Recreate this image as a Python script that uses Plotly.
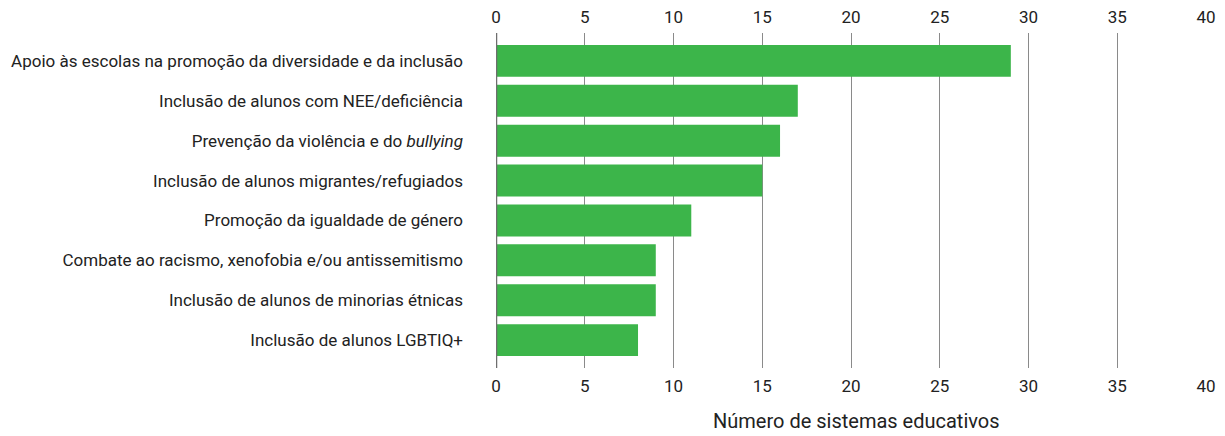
import plotly.graph_objects as go

categories = [
    "Apoio às escolas na promoção da diversidade e da inclusão",
    "Inclusão de alunos com NEE/deficiência",
    "Prevenção da violência e do <i>bullying</i>",
    "Inclusão de alunos migrantes/refugiados",
    "Promoção da igualdade de género",
    "Combate ao racismo, xenofobia e/ou antissemitismo",
    "Inclusão de alunos de minorias étnicas",
    "Inclusão de alunos LGBTIQ+",
]
values = [29, 17, 16, 15, 11, 9, 9, 8]
tick_vals = [0, 5, 10, 15, 20, 25, 30, 35, 40]
axis_title = "Número de sistemas educativos"

FONT = "Roboto, Arial, sans-serif"

fig = go.Figure()
fig.add_trace(go.Bar(
    y=categories, x=values, orientation="h",
    marker=dict(color="#3cb54a", line=dict(width=0)),
    width=0.8, showlegend=False, hoverinfo="x+y",
))
# invisible trace to activate top axis
fig.add_trace(go.Scatter(x=[0, 40], y=[categories[0], categories[0]], xaxis="x2",
                         mode="markers", marker=dict(opacity=0), showlegend=False, hoverinfo="skip"))

axis_common = dict(
    range=[0, 40.05], tickvals=tick_vals, showgrid=True, gridcolor="#8a8a8a", gridwidth=1.2,
    zeroline=False, showline=False, ticks="", automargin=False, ticklabelstandoff=6,
    tickfont=dict(family=FONT, size=17, color="#222"),
)
fig.update_layout(
    width=1209, height=428,
    margin=dict(l=488, r=10, t=25, b=68),
    plot_bgcolor="white", paper_bgcolor="white",
    font=dict(family=FONT, color="#222"),
    bargap=0.2,
    xaxis=dict(**axis_common, side="bottom"),
    xaxis2=dict(**axis_common, side="top", overlaying="x", matches="x"),
    yaxis=dict(categoryorder="array", categoryarray=categories, autorange=False,
               range=[7.7, -0.7], showgrid=False, zeroline=False, showline=False, ticks="",
               ticklabelstandoff=32, automargin=False,
               tickfont=dict(family=FONT, size=17, color="#222")),
    shapes=[dict(type="line", xref="x", yref="paper", x0=0, x1=0, y0=0, y1=1,
                 line=dict(color="#6e6e6e", width=2.5), layer="above")],
    annotations=[dict(text=axis_title, xref="paper", yref="paper", x=0.5, y=0,
                      xanchor="center", yanchor="middle", xshift=5, yshift=-53,
                      showarrow=False, font=dict(family=FONT, size=20, color="#222"))],
)
fig.write_html("out.html")
